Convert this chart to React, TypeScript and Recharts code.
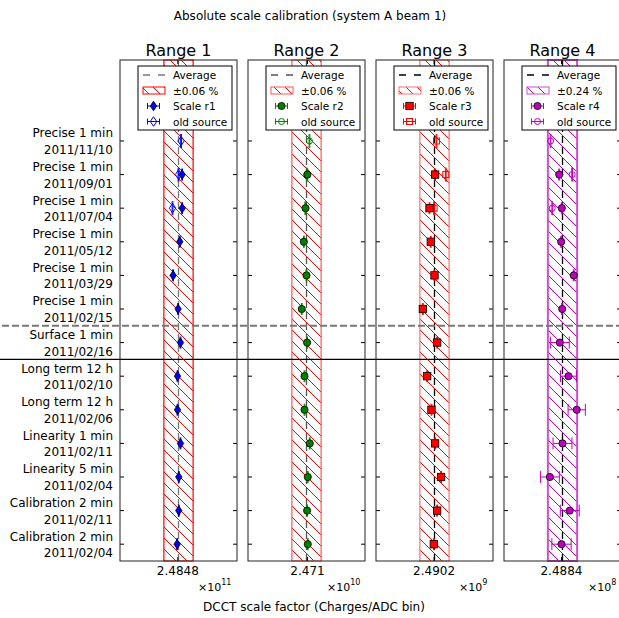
import React from "react";
import { ScatterChart, Scatter, XAxis, YAxis, ErrorBar, ReferenceArea, ReferenceLine } from "recharts";

const FONT = "DejaVu Sans, Verdana, sans-serif";

// rows, top to bottom
const rowLabels = [
  ["Precise 1 min", "2011/11/10"],
  ["Precise 1 min", "2011/09/01"],
  ["Precise 1 min", "2011/07/04"],
  ["Precise 1 min", "2011/05/12"],
  ["Precise 1 min", "2011/03/29"],
  ["Precise 1 min", "2011/02/15"],
  ["Surface 1 min", "2011/02/16"],
  ["Long term 12 h", "2011/02/10"],
  ["Long term 12 h", "2011/02/06"],
  ["Linearity 1 min", "2011/02/11"],
  ["Linearity 5 min", "2011/02/04"],
  ["Calibration 2 min", "2011/02/11"],
  ["Calibration 2 min", "2011/02/04"],
];
const rowIndex = rowLabels.map((_, i) => i);

// Range 1 (x 1e11)
const r1Scale = [null, 2.48524, 2.48524, 2.485, 2.48432, 2.48483, 2.48507, 2.48477, 2.48477, 2.48507, 2.4849, 2.4849, 2.48473];
const r1ScaleErr = [null, 0.00004, 0.00004, 0.00004, 0.00004, 0.00004, 0.00004, 0.00004, 0.00004, 0.00004, 0.00004, 0.00004, 0.00004];
const r1Old = [2.48513, 2.48487, 2.48426, null, null, null, null, null, null, null, null, null, null];
const r1OldErr = [0.00004, 0.00004, 0.00004];
const r1Average = 2.48487;

// Range 2 (x 1e10)
const r2Scale = [null, 2.47099, 2.4708, 2.47063, 2.4709, 2.47042, 2.47096, 2.4707, 2.4707, 2.47123, 2.47103, 2.47096, 2.47103];
const r2ScaleErr = [null, 0.00004, 0.00004, 0.00004, 0.00004, 0.00004, 0.00004, 0.00004, 0.00004, 0.00004, 0.00004, 0.00004, 0.00004];
const r2Old = [2.4712, 2.47093, 2.4708, null, null, null, null, null, null, null, null, null, null];
const r2OldErr = [0.00004, 0.00004, 0.00004];
const r2Average = 2.4709;

// Range 3 (x 1e9)
const r3Scale = [null, 2.4903, 2.48973, 2.48986, 2.49024, 2.48905, 2.49051, 2.48949, 2.48993, 2.4903, 2.49091, 2.49051, 2.49017];
const r3ScaleErr = [null, 0.00004, 0.00004, 0.00004, 0.00004, 0.00004, 0.00004, 0.00004, 0.00004, 0.00004, 0.00004, 0.00004, 0.00004];
const r3Old = [2.49044, 2.49139, 2.4902, null, null, null, null, null, null, null, null, null, null];
const r3OldErr = [0.00004, 0.00004, 0.00004];
const r3Average = 2.49024;

// Range 4 (x 1e8)
const r4Scale = [null, 2.48747, 2.48853, 2.48828, 2.4934, 2.48869, 2.48771, 2.49125, 2.49462, 2.48881, 2.48365, 2.49178, 2.4884];
const r4ScaleErr = [null, 0.0002, 0.0002, 0.0002, 0.0002, 0.0002, 0.00386, 0.00325, 0.00353, 0.00386, 0.00386, 0.00386, 0.00394];
const r4Old = [2.48393, 2.49275, 2.48463, null, null, null, null, null, null, null, null, null, null];
const r4OldErr = [0.00016, 0.00016, 0.00016];
const r4Average = 2.48881;

const tickValues = [2.4848, 2.471, 2.4902, 2.4884];
const tickLabels = ["2.4848", "2.471", "2.4902", "2.4884"];
const exponents = ["11", "10", "9", "8"];
const bandRel = [0.0006, 0.0006, 0.0006, 0.0024];
const bandLabels = ["\u00b10.06 %", "\u00b10.06 %", "\u00b10.06 %", "\u00b10.24 %"];

const PLOT_TOP = 60;
const PLOT_BOTTOM = 561;
const PLOT_W = 117;
const PLOT_LEFTS = [120, 248, 376, 504];
const GAP = 11;
const H = 618;

const panels = [
  { title: "Range 1", scale: r1Scale, scaleErr: r1ScaleErr, old: r1Old, oldErr: r1OldErr, avg: r1Average,
    name: "Scale r1", color: "#0000ff", kind: "diamond", hatch: "hatchRed", bandStroke: "#ff0000", avgColor: "#777" },
  { title: "Range 2", scale: r2Scale, scaleErr: r2ScaleErr, old: r2Old, oldErr: r2OldErr, avg: r2Average,
    name: "Scale r2", color: "#008000", kind: "circle", hatch: "hatchRed", bandStroke: "#ff5555", avgColor: "#555" },
  { title: "Range 3", scale: r3Scale, scaleErr: r3ScaleErr, old: r3Old, oldErr: r3OldErr, avg: r3Average,
    name: "Scale r3", color: "#ff0000", kind: "square", hatch: "hatchRed", bandStroke: "#ff7070", avgColor: "#000" },
  { title: "Range 4", scale: r4Scale, scaleErr: r4ScaleErr, old: r4Old, oldErr: r4OldErr, avg: r4Average,
    name: "Scale r4", color: "#bf00bf", kind: "circle", hatch: "hatchMag", bandStroke: "#d050d0", avgColor: "#000" },
];

function Mark({ kind, cx, cy, color, open }: any) {
  const fill = open ? "none" : color;
  const stroke = open ? color : "#000";
  const sw = open ? 1 : 0.8;
  if (kind === "diamond") {
    const w = 3.2, h = 4.8;
    return <path d={`M${cx},${cy - h} L${cx + w},${cy} L${cx},${cy + h} L${cx - w},${cy} Z`} fill={fill} stroke={stroke} strokeWidth={sw} />;
  }
  if (kind === "square") {
    const s = open ? 3 : 3.7;
    return <rect x={cx - s} y={cy - s} width={2 * s} height={2 * s} fill={fill} stroke={stroke} strokeWidth={sw} />;
  }
  const r = open ? 3 : 3.6;
  return <circle cx={cx} cy={cy} r={r} fill={fill} stroke={stroke} strokeWidth={sw} />;
}

function toPoints(vals: (number | null)[], errs: (number | null)[]) {
  const out: { x: number; row: number; err: number }[] = [];
  vals.forEach((v, i) => {
    if (v != null) out.push({ x: v, row: i, err: errs[i] ?? 0 });
  });
  return out;
}

function Panel({ p, idx }: any) {
  const plotLeft = PLOT_LEFTS[idx];
  const svgLeft = idx === 0 ? 0 : plotLeft - GAP;
  const width = plotLeft + PLOT_W - svgLeft;
  const localLeft = plotLeft - svgLeft;
  const localRight = localLeft + PLOT_W;
  const span = bandRel[idx] * 4;
  const lo = p.avg * (1 - span);
  const hi = p.avg * (1 + span);
  const far = (hi - lo) * 4;

  const xTick = (t: any) => (
    <g>
      <line x1={t.x} x2={t.x} y1={PLOT_BOTTOM} y2={PLOT_BOTTOM - 4} stroke="#000" />
      <line x1={t.x} x2={t.x} y1={PLOT_TOP} y2={PLOT_TOP + 4} stroke="#000" />
      <text x={t.x} y={PLOT_BOTTOM + 14} textAnchor="middle" fontSize={12} fontFamily={FONT} fill="#000">
        {tickLabels[idx]}
      </text>
    </g>
  );

  const yTick = (t: any) => {
    const lab = rowLabels[t.payload.value];
    return (
      <g>
        <line x1={localLeft} x2={localLeft + 4} y1={t.y} y2={t.y} stroke="#000" />
        <line x1={localRight - 4} x2={localRight} y1={t.y} y2={t.y} stroke="#000" />
        {idx === 0 && lab ? (
          <text textAnchor="end" fontSize={12} fontFamily={FONT} fill="#000">
            <tspan x={localLeft - 7} y={t.y - 3.5}>{lab[0]}</tspan>
            <tspan x={localLeft - 7} y={t.y + 13}>{lab[1]}</tspan>
          </text>
        ) : null}
      </g>
    );
  };

  return (
    <div style={{ position: "absolute", left: svgLeft, top: 0 }}>
      <ScatterChart width={width} height={H} margin={{ top: PLOT_TOP, right: 0, bottom: 0, left: localLeft }}>
        <XAxis type="number" dataKey="x" domain={[lo, hi]} allowDataOverflow ticks={[tickValues[idx]]}
          height={H - PLOT_BOTTOM} axisLine={false} tickLine={false} tick={xTick} interval={0} />
        <YAxis type="number" dataKey="row" domain={[-2.41, 12.5]} reversed allowDataOverflow ticks={rowIndex}
          interval={0} mirror axisLine={false} tickLine={false} tick={yTick} />
        <ReferenceArea x1={p.avg * (1 - bandRel[idx])} x2={p.avg * (1 + bandRel[idx])} fill={`url(#${p.hatch})`}
          fillOpacity={1} stroke={p.bandStroke} strokeWidth={idx === 3 ? 2 : 1.2} />
        <ReferenceLine x={p.avg} stroke={p.avgColor} strokeWidth={1.3} strokeDasharray="7 4" />
        <ReferenceLine segment={[{ x: lo - far, y: 5.5 }, { x: hi + far, y: 5.5 }]} ifOverflow="visible"
          stroke="#777" strokeWidth={2} strokeDasharray="7 3" />
        <ReferenceLine segment={[{ x: lo - far, y: 6.5 }, { x: hi + far, y: 6.5 }]} ifOverflow="visible"
          stroke="#000" strokeWidth={1.2} />
        <Scatter data={toPoints(p.old, p.oldErr)} isAnimationActive={false}
          shape={(s: any) => <Mark kind={p.kind} cx={s.cx} cy={s.cy} color={p.color} open />}>
          <ErrorBar dataKey="err" direction="x" width={7} stroke={p.color} strokeWidth={1} />
        </Scatter>
        <Scatter data={toPoints(p.scale, p.scaleErr)} isAnimationActive={false}
          shape={(s: any) => <Mark kind={p.kind} cx={s.cx} cy={s.cy} color={p.color} />}>
          <ErrorBar dataKey="err" direction="x" width={6} stroke={p.color} strokeWidth={1} />
        </Scatter>
      </ScatterChart>
    </div>
  );
}

function LegendBox({ p, idx }: any) {
  const left = PLOT_LEFTS[idx];
  const x0 = left + 18;
  const hx1 = left + 23;
  const hx2 = left + 45;
  const hc = left + 33.5;
  const tx = left + 53;
  const ys = [75, 90.5, 106, 121.5];
  const eb = (y: number, open: boolean) => (
    <g>
      <line x1={hc - 6} x2={hc + 6} y1={y} y2={y} stroke={p.color} />
      <line x1={hc - 6} x2={hc - 6} y1={y - 3} y2={y + 3} stroke={p.color} />
      <line x1={hc + 6} x2={hc + 6} y1={y - 3} y2={y + 3} stroke={p.color} />
      <Mark kind={p.kind} cx={hc} cy={y} color={p.color} open={open} />
    </g>
  );
  const txt = (y: number, s: string) => (
    <text x={tx} y={y + 4} fontSize={10.5} fontFamily={FONT} fill="#000">{s}</text>
  );
  return (
    <g>
      <rect x={x0} y={66} width={94} height={64} fill="#fff" stroke="#000" strokeWidth={1} />
      <line x1={hx1} x2={hx2} y1={ys[0]} y2={ys[0]} stroke={p.avgColor} strokeWidth={1.3} strokeDasharray="7 8" />
      <rect x={hx1} y={ys[1] - 3.5} width={hx2 - hx1} height={7} fill={`url(#${p.hatch})`} stroke={p.bandStroke} />
      {eb(ys[2], false)}
      {eb(ys[3], true)}
      {txt(ys[0], "Average")}
      {txt(ys[1], " " + bandLabels[idx])}
      {txt(ys[2], p.name)}
      {txt(ys[3], "old source")}
    </g>
  );
}

const offsetStarts = [198, 327, 459, 588];

export default function App() {
  return (
    <div style={{ position: "absolute", left: 0, top: 0, width: 619, height: H, overflow: "hidden", background: "#fff" }}>
      <svg width={0} height={0} style={{ position: "absolute" }}>
        <defs>
          <pattern id="hatchRed" patternUnits="userSpaceOnUse" width={11} height={11}>
            <path d="M0,0 L11,11 M-2,9 L2,13 M9,-2 L13,2" stroke="#ff0000" strokeWidth={1} />
          </pattern>
          <pattern id="hatchMag" patternUnits="userSpaceOnUse" width={11} height={11}>
            <path d="M0,0 L11,11 M-2,9 L2,13 M9,-2 L13,2" stroke="#bf00bf" strokeWidth={1} />
          </pattern>
        </defs>
      </svg>
      {panels.map((p, i) => <Panel key={i} p={p} idx={i} />)}
      <svg width={619} height={H} style={{ position: "absolute", left: 0, top: 0, pointerEvents: "none" }}>
        <text x={310} y={20} textAnchor="middle" fontSize={12} fontFamily={FONT} fill="#000">
          Absolute scale calibration (system A beam 1)
        </text>
        {panels.map((p, i) => (
          <g key={i}>
            <rect x={PLOT_LEFTS[i]} y={PLOT_TOP} width={PLOT_W} height={PLOT_BOTTOM - PLOT_TOP} fill="none" stroke="#222" strokeWidth={1} />
            <text x={PLOT_LEFTS[i] + PLOT_W / 2} y={56} textAnchor="middle" fontSize={16} fontFamily={FONT} fill="#000">{p.title}</text>
            <LegendBox p={p} idx={i} />
            <text x={offsetStarts[i]} y={591} fontSize={11} fontFamily={FONT} fill="#000">
              {"\u00d710"}
              <tspan fontSize={8} dy={-6}>{exponents[i]}</tspan>
            </text>
          </g>
        ))}
        <text x={314} y={611} textAnchor="middle" fontSize={12} fontFamily={FONT} fill="#000">
          DCCT scale factor (Charges/ADC bin)
        </text>
      </svg>
    </div>
  );
}
